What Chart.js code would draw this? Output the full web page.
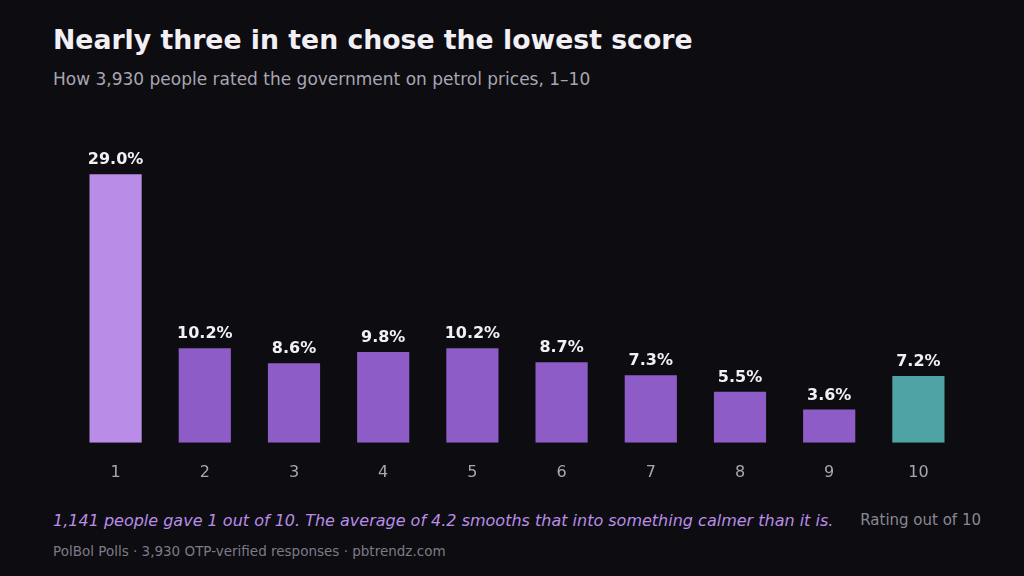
<!DOCTYPE html>
<html><head><meta charset="utf-8">
<script src="https://cdn.jsdelivr.net/npm/chart.js@4/dist/chart.umd.min.js"></script>
<style>
body{margin:0;background:#0d0c11;width:1024px;height:576px;overflow:hidden;font-family:"DejaVu Sans",sans-serif;position:relative}
#title{position:absolute;left:53px;top:24px;color:#f2f0f5;font-size:26.7px;font-weight:bold}
#sub{position:absolute;left:53px;top:69px;color:#a9a6b2;font-size:17px}
#note{position:absolute;left:53px;top:511px;color:#b98ce8;font-size:16px;font-style:italic}
#axisname{position:absolute;right:43px;top:511px;color:#8a8793;font-size:15px}
#src{position:absolute;left:53px;top:543px;color:#7d7a86;font-size:13.5px}
#wrap{position:absolute;left:0;top:114px;width:1024px;height:380px}
</style></head><body>
<div id="title">Nearly three in ten chose the lowest score</div>
<div id="sub">How 3,930 people rated the government on petrol prices, 1–10</div>
<div id="wrap"><canvas id="c"></canvas></div>
<div id="note">1,141 people gave 1 out of 10. The average of 4.2 smooths that into something calmer than it is.</div>
<div id="axisname">Rating out of 10</div>
<div id="src">PolBol Polls · 3,930 OTP-verified responses · pbtrendz.com</div>
<script>
var ratings = ["1","2","3","4","5","6","7","8","9","10"];
var shares = [29.0, 10.2, 8.6, 9.8, 10.2, 8.7, 7.3, 5.5, 3.6, 7.2];
var barColors = ["#b98ce8","#8e5cc6","#8e5cc6","#8e5cc6","#8e5cc6","#8e5cc6","#8e5cc6","#8e5cc6","#8e5cc6","#4fa3a5"];

var labelPlugin = {
  id: 'labels',
  afterDatasetsDraw: function(chart){
    var ctx = chart.ctx;
    var meta = chart.getDatasetMeta(0);
    ctx.save();
    ctx.fillStyle = '#f2f0f5';
    ctx.font = 'bold 16px "DejaVu Sans"';
    ctx.textAlign = 'center';
    ctx.textBaseline = 'bottom';
    meta.data.forEach(function(bar, i){
      ctx.fillText(shares[i].toFixed(1) + '%', bar.x, bar.y - 6);
    });
    ctx.restore();
  }
};

new Chart(document.getElementById('c'), {
  type: 'bar',
  data: {
    labels: ratings,
    datasets: [{ data: shares, backgroundColor: barColors, categoryPercentage: 1, barPercentage: 0.585 }]
  },
  options: {
    responsive: true,
    maintainAspectRatio: false,
    animation: false,
    layout: { padding: { left: 71, right: 61, top: 0, bottom: 0 } },
    plugins: { legend: { display: false }, tooltip: { enabled: false } },
    scales: {
      x: {
        grid: { display: false }, border: { display: false },
        ticks: { color: '#a9a6b2', font: { size: 16, family: 'DejaVu Sans' }, padding: 12 }
      },
      y: { display: false, min: 0, max: 35.5 }
    }
  },
  plugins: [labelPlugin]
});
</script>
</body></html>
